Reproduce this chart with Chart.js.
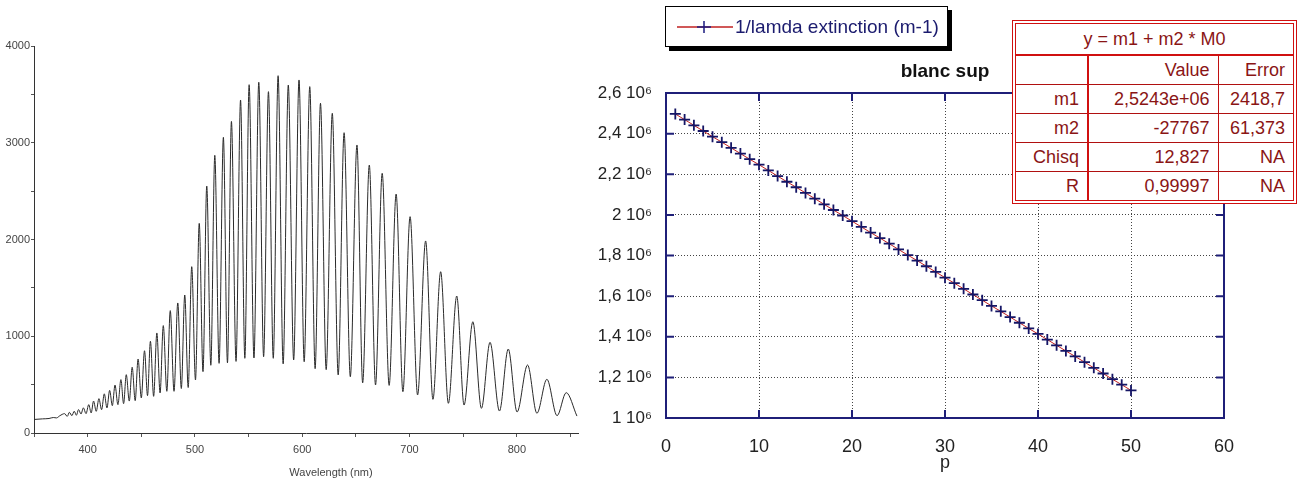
<!DOCTYPE html>
<html lang="fr">
<head>
<meta charset="UTF-8" />
<title>Spectre - blanc sup</title>
<script src="https://cdn.jsdelivr.net/npm/chart.js"></script>
<style>
    body {
        margin: 0;
        background: #fff;
        width: 1300px;
        height: 484px;
        position: relative;
        overflow: hidden;
        font-family: "Liberation Sans", Arial, sans-serif;
    }
    #spectrumChart { position: absolute; left: 0; top: 0; }
    #fitChart { position: absolute; left: 590px; top: 0; }
    .legend-box {
        position: absolute;
        left: 665px;
        top: 6px;
        width: 283px;
        height: 41px;
        box-sizing: border-box;
        border: 1px solid #000;
        background: #fff;
        box-shadow: 4px 4px 0 #000;
        display: flex;
        align-items: center;
        padding-left: 11px;
        color: #1b1b6e;
        font-size: 19px;
    }
    .legend-box svg { margin-right: 2px; }
    .fit-table {
        position: absolute;
        left: 1012px;
        top: 20px;
        border: 4px double #d01010;
        background: #fff;
    }
    .fit-table table {
        border-collapse: collapse;
        table-layout: fixed;
        color: #8a1515;
        font-size: 18px;
    }
    .fit-table td {
        height: 28px;
        padding: 0 8px 0 0;
        text-align: right;
        border-bottom: 1px solid #b01010;
        white-space: nowrap;
        overflow: hidden;
    }
    .fit-table tr:last-child td { border-bottom: none; }
    .fit-table td.c1 { border-right: 2px solid #d01010; }
    .fit-table td.c2 { border-right: 1px solid #c01010; }
    .fit-table td.head {
        height: 30px;
        text-align: center;
        padding: 0;
        border-bottom: 2px solid #d01010;
    }
</style>
</head>
<body>
    <canvas id="spectrumChart" width="590" height="484"></canvas>
    <canvas id="fitChart" width="710" height="484"></canvas>

    <div class="legend-box">
        <svg width="56" height="14">
            <line x1="0" y1="7" x2="56" y2="7" stroke="#c02020" stroke-width="1.5" />
            <path d="M20 7 H34 M27 1 V13" stroke="#1b1b80" stroke-width="1.5" />
        </svg>
        <span>1/lamda extinction (m-1)</span>
    </div>

    <div class="fit-table">
        <table>
            <colgroup><col style="width:72px"><col style="width:130px"><col style="width:75px"></colgroup>
            <tr><td class="head" colspan="3">y = m1 + m2 * M0</td></tr>
            <tr><td class="c1"></td><td class="c2">Value</td><td>Error</td></tr>
            <tr><td class="c1">m1</td><td class="c2">2,5243e+06</td><td>2418,7</td></tr>
            <tr><td class="c1">m2</td><td class="c2">-27767</td><td>61,373</td></tr>
            <tr><td class="c1">Chisq</td><td class="c2">12,827</td><td>NA</td></tr>
            <tr><td class="c1">R</td><td class="c2">0,99997</td><td>NA</td></tr>
        </table>
    </div>

<script>
// spectrum: peaks and troughs (nm, counts)
const wavelength = [
    350, 358, 364, 368, 371, 374,
    378.5, 381, 383, 385.3, 387.5, 389.5, 391.5, 393.8, 396, 398.5,
    401, 403.3, 405.5, 408, 410.5, 413, 415.5, 418, 420.5, 423,
    425.5, 428.2, 431, 433.5, 436, 438.8, 441.5, 444.3, 447, 450,
    453, 455.8, 458.5, 461.5, 464.5, 467.5, 470.5, 473.8, 477, 480.5,
    484, 487.3, 490.5, 493.7, 497, 500.5, 504, 507.5, 511, 514.8,
    518.5, 522.5, 526.5, 530.3, 534, 538.3, 542.5, 546.5, 550.5, 555,
    559.5, 564, 568.5, 573, 577.5, 582.2, 587, 592, 597, 601.8,
    607, 612, 617, 622.3, 628, 633.5, 639, 644.8, 651, 656.3,
    662.5, 668.3, 674.5, 681, 687.5, 693.8, 700.5, 707.5, 715, 721.8,
    729, 736.2, 744, 750.8, 759, 767, 775, 783.8, 792, 800.2,
    810, 818.7, 828, 837.5, 846, 856
];
const intensity = [
    140, 146, 150, 160, 156, 178,
    200, 172, 214, 179, 225, 183, 242, 196, 260, 200,
    293, 207, 330, 224, 355, 241, 405, 259, 440, 283,
    495, 293, 552, 303, 603, 330, 680, 334, 765, 362,
    850, 386, 948, 379, 1034, 414, 1110, 431, 1265, 431,
    1344, 460, 1426, 470, 1719, 548, 2167, 634, 2553, 700,
    2870, 720, 3056, 725, 3220, 740, 3442, 772, 3600, 775,
    3625, 789, 3528, 772, 3693, 715, 3597, 755, 3649, 737,
    3580, 665, 3408, 655, 3304, 600, 3104, 582, 2977, 518,
    2770, 496, 2684, 492, 2470, 427, 2236, 393, 1985, 348,
    1667, 307, 1416, 289, 1150, 255, 937, 227, 868, 217,
    703, 204, 555, 179, 417, 175
];

// right plot: order p and 1/lambda of the extinctions (m-1)
const orders = [
    1, 2, 3, 4, 5, 6, 7, 8, 9, 10,
    11, 12, 13, 14, 15, 16, 17, 18, 19, 20,
    21, 22, 23, 24, 25, 26, 27, 28, 29, 30,
    31, 32, 33, 34, 35, 36, 37, 38, 39, 40,
    41, 42, 43, 44, 45, 46, 47, 48, 49, 50
];
const extinction = [
    2497000, 2469000, 2441000, 2413000, 2385000, 2358000, 2330000, 2302000, 2274000, 2247000,
    2219000, 2191000, 2163000, 2136000, 2108000, 2080000, 2052000, 2024000, 1997000, 1969000,
    1941000, 1913000, 1886000, 1858000, 1830000, 1802000, 1775000, 1747000, 1719000, 1691000,
    1664000, 1636000, 1608000, 1580000, 1552000, 1525000, 1497000, 1469000, 1441000, 1414000,
    1386000, 1358000, 1330000, 1303000, 1275000, 1247000, 1219000, 1191000, 1164000, 1136000
];

const FONT = '"Liberation Sans", Arial, sans-serif';

// ---- left: transmission spectrum ----
const wavelengthTitle = {
    id: 'wavelengthTitle',
    afterDraw(chart) {
        const ctx = chart.ctx;
        ctx.save();
        ctx.fillStyle = '#444';
        ctx.font = '11px ' + FONT;
        ctx.textAlign = 'center';
        ctx.textBaseline = 'middle';
        ctx.fillText('Wavelength (nm)', 331, 473);
        ctx.restore();
    }
};

new Chart(document.getElementById('spectrumChart'), {
    type: 'line',
    data: {
        datasets: [{
            data: wavelength.map((w, i) => ({ x: w, y: intensity[i] })),
            borderColor: '#2a2a2a',
            borderWidth: 1,
            pointRadius: 0,
            cubicInterpolationMode: 'monotone'
        }]
    },
    options: {
        responsive: false,
        animation: false,
        layout: { padding: { top: 46, right: 12, left: 0, bottom: 0 } },
        plugins: { legend: { display: false }, tooltip: { enabled: false } },
        scales: {
            x: {
                type: 'linear',
                min: 350,
                max: 857,
                afterFit(scale) { scale.height = 51; },
                grid: { drawOnChartArea: false, color: '#555', tickLength: 4 },
                border: { color: '#333', width: 1 },
                ticks: {
                    stepSize: 50,
                    includeBounds: false,
                    maxRotation: 0,
                    autoSkip: false,
                    padding: 6,
                    color: '#444',
                    font: { family: FONT, size: 11 },
                    callback: v => (v % 100 === 0 ? v : '')
                }
            },
            y: {
                min: 0,
                max: 4000,
                afterFit(scale) { scale.width = 34; },
                grid: { drawOnChartArea: false, color: '#555', tickLength: 3 },
                border: { color: '#333', width: 1 },
                ticks: {
                    stepSize: 500,
                    padding: 1,
                    color: '#444',
                    font: { family: FONT, size: 11 },
                    callback: v => (v % 1000 === 0 ? v : '')
                }
            }
        }
    },
    plugins: [wavelengthTitle]
});

// ---- right: 1/lambda vs order ----
const NAVY = '#1f1f78';
const frame = {
    id: 'frame',
    afterDraw(chart) {
        const { ctx, chartArea: a, scales } = chart;
        ctx.save();
        ctx.strokeStyle = NAVY;
        ctx.lineWidth = 2;
        ctx.strokeRect(a.left, a.top, a.right - a.left, a.bottom - a.top);
        ctx.beginPath();
        scales.x.ticks.forEach(t => {
            if (t.value <= scales.x.min || t.value >= scales.x.max) return;
            const x = scales.x.getPixelForValue(t.value);
            ctx.moveTo(x, a.bottom); ctx.lineTo(x, a.bottom - 8);
            ctx.moveTo(x, a.top); ctx.lineTo(x, a.top + 8);
        });
        scales.y.ticks.forEach(t => {
            if (t.value <= scales.y.min || t.value >= scales.y.max) return;
            const y = scales.y.getPixelForValue(t.value);
            ctx.moveTo(a.left, y); ctx.lineTo(a.left + 8, y);
            ctx.moveTo(a.right, y); ctx.lineTo(a.right - 8, y);
        });
        ctx.stroke();

        // plot title, centred over the plot area
        ctx.fillStyle = '#111';
        ctx.font = 'bold 19px ' + FONT;
        ctx.textAlign = 'center';
        ctx.textBaseline = 'middle';
        ctx.fillText('blanc sup', (a.left + a.right) / 2, 72);
        ctx.restore();
    }
};

new Chart(document.getElementById('fitChart'), {
    type: 'line',
    data: {
        datasets: [{
            label: '1/lamda extinction (m-1)',
            data: orders.map((p, i) => ({ x: p, y: extinction[i] })),
            borderColor: '#c02020',
            borderWidth: 1,
            pointStyle: 'cross',
            pointRadius: 5.5,
            pointBorderColor: '#151565',
            pointBorderWidth: 1.8
        }]
    },
    options: {
        responsive: false,
        animation: false,
        layout: { padding: { top: 93, right: 76, left: 0, bottom: 0 } },
        plugins: {
            legend: { display: false },
            tooltip: { enabled: false }
        },
        scales: {
            x: {
                type: 'linear',
                min: 0,
                max: 60,
                afterFit(scale) { scale.height = 66; },
                grid: { color: '#444', drawTicks: false },
                border: { display: false, dash: [1, 2] },
                title: {
                    display: true,
                    text: 'p',
                    color: '#222',
                    font: { family: FONT, size: 18 },
                    padding: { top: 0, bottom: 10 }
                },
                ticks: {
                    stepSize: 10,
                    padding: 18,
                    color: '#222',
                    font: { family: FONT, size: 18 }
                }
            },
            y: {
                min: 1000000,
                max: 2600000,
                afterFit(scale) { scale.width = 76; },
                grid: { color: '#444', drawTicks: false },
                border: { display: false, dash: [1, 2] },
                ticks: {
                    stepSize: 200000,
                    padding: 14,
                    color: '#222',
                    font: { family: FONT, size: 17 },
                    callback: v => (v / 1e6).toFixed(1).replace('.0', '').replace('.', ',') + ' 10\u2076'
                }
            }
        }
    },
    plugins: [frame]
});
</script>
</body>
</html>
